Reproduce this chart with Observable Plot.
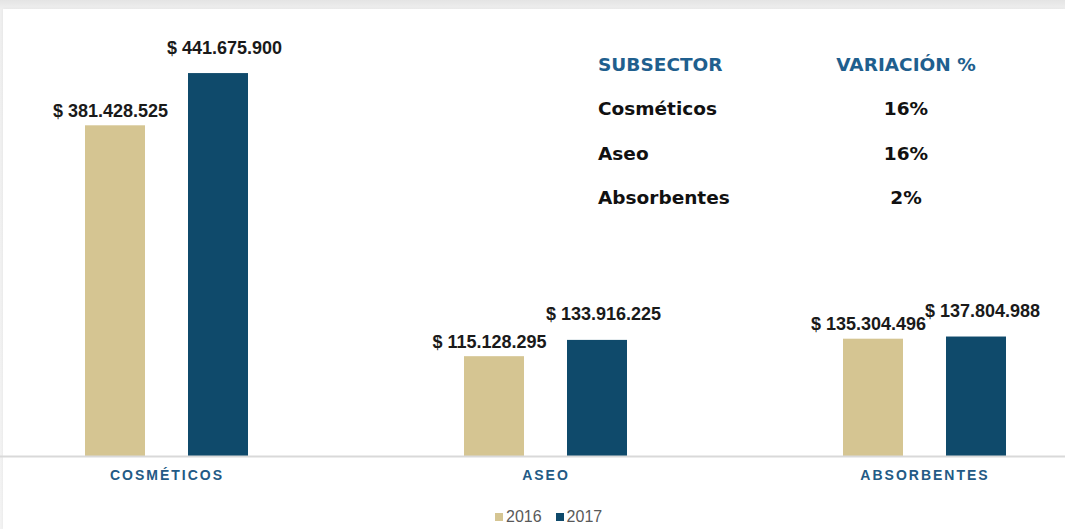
<!DOCTYPE html>
<html>
<head>
<meta charset="utf-8">
<script src="https://cdn.jsdelivr.net/npm/d3@7"></script>
<script src="https://cdn.jsdelivr.net/npm/@observablehq/plot@0.6"></script>
<style>
html, body { margin: 0; padding: 0; }
body {
  width: 1065px; height: 529px; overflow: hidden; position: relative;
  background: linear-gradient(#e4e4e4, #efefef 9px, #f3f3f3);
  font-family: "Liberation Sans", Arial, sans-serif;
}
.card { position: absolute; left: 3px; top: 9px; right: 0; bottom: 0; background: #fff; box-shadow: 0 0 3px rgba(0,0,0,0.06); }
#chart { position: absolute; left: 0; top: 0; width: 1065px; }
#chart svg { display: block; background: transparent; }
#chart g[aria-label="fx-axis tick label"] text,
#chart g[aria-label="fx-axis"] text {
  font-size: 14px; font-weight: bold; letter-spacing: 2px; fill: #235a85;
}
#legend { position: absolute; left: 0; top: 505px; width: 1065px; height: 24px; }
#legend .lg-swatches.lg-swatches-wrap {
  display: flex; align-items: center; min-height: 24px; height: 24px; margin: 0 0 0 495px;
  font-family: "Liberation Sans", Arial, sans-serif; font-size: 16px; color: #595959;
}
#legend .lg-swatches-wrap .lg-swatch { margin-right: 14px; }
#legend .lg-swatch > svg { margin-right: 3px; }
#vt { position: absolute; left: 598px; top: 43px; font-family: "DejaVu Sans", sans-serif; font-weight: bold; font-size: 18.5px; }
#vt table { border-collapse: collapse; }
#vt td { padding: 0; line-height: 44.3px; height: 44.3px; white-space: nowrap; color: #111; }
#vt td.c1 { width: 238px; text-align: left; }
#vt td.c2 { width: 140px; text-align: center; }
#vt tr.head td { color: #1f5f8e; }
</style>
</head>
<body>
<div class="card"></div>
<div id="chart"></div>
<div id="vt"></div>
<div id="legend"></div>
<script>
// ---- data ----
const categories = ["Cosméticos", "Aseo", "Absorbentes"];
const years = ["2016", "2017"];
const values2016 = [381428525, 115128295, 135304496];
const values2017 = [441675900, 133916225, 137804988];
const variation = ["16%", "16%", "2%"];
const tableHeader = ["SUBSECTOR", "VARIACIÓN %"];
const colors = ["#d5c592", "#0f4a6b"];

const data = categories.flatMap((c, i) => [
  {cat: c, year: "2016", value: values2016[i]},
  {cat: c, year: "2017", value: values2017[i]}
]);

const loc = d3.formatLocale({decimal: ",", thousands: ".", grouping: [3], currency: ["$ ", ""]});
const fmt = loc.format("$,.0f");

const textStyle = {
  fontSize: 18, fontWeight: "bold", fontFamily: "Liberation Sans, Arial, sans-serif",
  fill: "#1a1a1a", lineAnchor: "bottom"
};

const plot = Plot.plot({
  width: 1065,
  height: 505,
  marginLeft: 0, marginRight: 0, marginTop: 22.5, marginBottom: 49,
  style: {background: "transparent", fontFamily: "Liberation Sans, Arial, sans-serif"},
  fx: {domain: categories, range: [-23, 1114], paddingInner: 0, paddingOuter: 0,
       label: null, axis: "bottom", tickSize: 0, tickPadding: 14, tickFormat: d => d.toUpperCase()},
  x: {domain: years, paddingInner: 0.417, paddingOuter: 1.048, axis: null},
  y: {domain: [0, 500e6], range: [456, 22.5], axis: null},
  color: {domain: years, range: colors},
  marks: [
    Plot.barY(data, {fx: "cat", x: "year", y: "value", fill: "year"}),
    Plot.ruleY([0], {stroke: "#d9d9d9", strokeWidth: 2}),
    Plot.text(data, {filter: d => d.year === "2016", fx: "cat", x: "year", y: "value",
      text: d => fmt(d.value), dy: -9, dx: -5, ...textStyle}),
    Plot.text(data, {filter: d => d.year === "2017", fx: "cat", x: "year", y: "value",
      text: d => fmt(d.value), dy: -20, dx: 6, ...textStyle})
  ]
});
document.getElementById("chart").appendChild(plot);

// ---- table of variation ----
const tbl = d3.select("#vt").append("table");
const head = tbl.append("tr").attr("class", "head");
head.append("td").attr("class", "c1").text(tableHeader[0]);
head.append("td").attr("class", "c2").text(tableHeader[1]);
categories.forEach((c, i) => {
  const r = tbl.append("tr");
  r.append("td").attr("class", "c1").text(c);
  r.append("td").attr("class", "c2").text(variation[i]);
});

// ---- legend ----
const legend = Plot.legend({
  color: {domain: years, range: colors},
  legend: "swatches",
  swatchSize: 8,
  className: "lg"
});
document.getElementById("legend").appendChild(legend);
</script>
</body>
</html>
